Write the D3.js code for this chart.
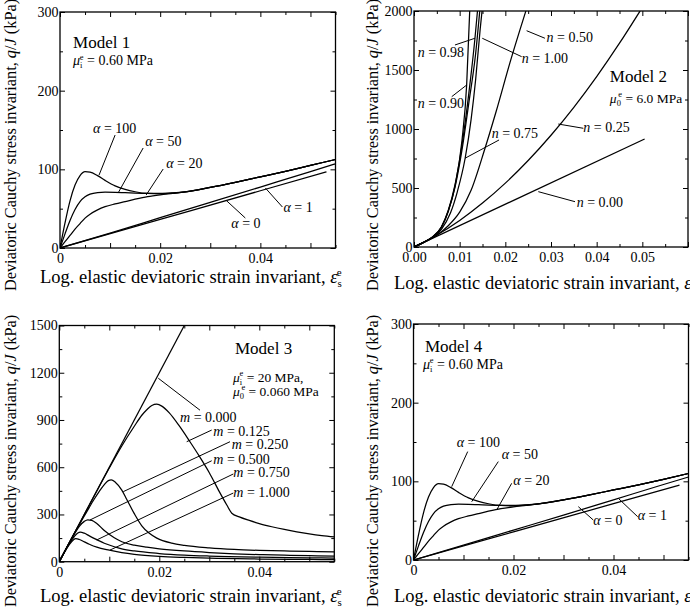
<!DOCTYPE html>
<html><head><meta charset="utf-8">
<script src="https://cdn.jsdelivr.net/npm/d3@7"></script>
<style>
body{margin:0;background:#fff}
svg{display:block}
text{font-family:"Liberation Serif","Times New Roman",serif;fill:#000}
</style>
</head><body>
<svg id="chart" width="690" height="611"></svg>
<script>
// ---------------- DATA ----------------
// Model 1 : q/J (kPa) vs log elastic deviatoric strain
const m1_a100 = [[0,0],[0.001,32],[0.002,60],[0.003,80],[0.004,92],[0.005,97],[0.006,96.5],[0.0075,92],[0.009,86],[0.011,79],[0.013,74.5],[0.015,71.5],[0.0175,69.3],[0.02,68.8],[0.0225,69.6],[0.025,71.3],[0.03,77],[0.035,83.5],[0.04,90.5],[0.045,97.5],[0.05,105],[0.055,112.5]];
const m1_a50  = [[0,0],[0.001,18],[0.002,35],[0.003,49],[0.004,59],[0.005,65],[0.006,68.5],[0.0075,70.5],[0.009,71],[0.011,70.8],[0.013,70.3],[0.015,69.8],[0.0175,69.4],[0.02,69.3],[0.0225,70],[0.025,71.3],[0.03,77],[0.035,83.5],[0.04,90.5],[0.045,97.5],[0.05,105],[0.055,112.5]];
const m1_a20  = [[0,0],[0.001,8],[0.002,16],[0.003,24],[0.004,31],[0.005,38],[0.006,43],[0.0075,48.5],[0.009,52.5],[0.011,56],[0.013,59],[0.015,62],[0.0175,65.3],[0.02,67.6],[0.0225,69.4],[0.025,71.3],[0.03,77],[0.035,83.5],[0.04,90.5],[0.045,97.5],[0.05,105],[0.055,112.5]];
const m1_a1   = [[0,0],[0.01,19],[0.02,38.5],[0.03,58],[0.04,77.5],[0.05,97],[0.055,107]];
const m1_a0   = [[0,0],[0.02,36.4],[0.04,72.8],[0.0532,96.8]];
const m1_names = ["α = 100","α = 50","α = 20","α = 1","α = 0"];

// Model 2
const m2_n000 = [[0,0],[0.0505,915]];
const m2_n025 = [[0,0],[0.005,101],[0.01,225],[0.015,372],[0.02,541],[0.025,733],[0.03,947],[0.035,1184],[0.04,1444],[0.045,1727],[0.0495,2000]];
const m2_n050 = [[0,0],[0.0025,47],[0.005,100],[0.0075,180],[0.01,295],[0.0125,480],[0.0155,830],[0.018,1150],[0.021,1560],[0.0245,2000]];
const m2_n075 = [[0,0],[0.002,37],[0.004,80],[0.006,150],[0.008,290],[0.0095,470],[0.0112,752],[0.0125,1080],[0.0135,1420],[0.0145,1850],[0.0149,2000]];
const m2_n090 = [[0,0],[0.002,37],[0.004,82],[0.006,165],[0.0075,300],[0.009,520],[0.0105,900],[0.01153,1373],[0.0122,2000]];
const m2_n098 = [[0,0],[0.002,37],[0.004,83],[0.006,170],[0.0075,310],[0.009,530],[0.0105,860],[0.012,1300],[0.01335,1769],[0.0139,2000]];
const m2_n100 = [[0,0],[0.002,37],[0.004,83],[0.006,170],[0.0075,305],[0.009,510],[0.0105,820],[0.012,1220],[0.0135,1640],[0.0144,2000]];
const m2_names = ["n = 0.00","n = 0.25","n = 0.50","n = 0.75","n = 0.90","n = 0.98","n = 1.00"];

// Model 3
const m3_m0000 = [[0,0],[0.025,1500]];
const m3_m0125 = [[0,0],[0.005,300],[0.01,595],[0.0125,735],[0.015,860],[0.0165,930],[0.0175,965],[0.0185,992],[0.0195,1000],[0.0205,988],[0.022,945],[0.024,862],[0.026,768],[0.028,670],[0.03,565],[0.032,445],[0.0335,360],[0.0345,308],[0.036,285],[0.038,262],[0.04,242],[0.0425,222],[0.045,205],[0.0475,190],[0.05,177],[0.0525,166],[0.055,157]];
const m3_m0250 = [[0,0],[0.003,180],[0.005,290],[0.006,345],[0.007,398],[0.008,447],[0.009,490],[0.0098,515],[0.0104,520],[0.0112,505],[0.0125,455],[0.0135,395],[0.015,305],[0.0165,228],[0.018,180],[0.0195,150],[0.0225,118],[0.025,104],[0.03,88],[0.035,78],[0.04,72],[0.045,68],[0.05,65],[0.055,63]];
const m3_m0500 = [[0,0],[0.002,120],[0.003,175],[0.004,225],[0.005,256],[0.0057,266],[0.0065,262],[0.0075,242],[0.009,198],[0.011,152],[0.0125,127],[0.015,105],[0.0175,92],[0.02,82],[0.025,68],[0.03,58],[0.035,50],[0.04,45],[0.045,41],[0.05,38],[0.055,36]];
const m3_m0750 = [[0,0],[0.001,60],[0.002,115],[0.003,160],[0.0037,182],[0.0042,188],[0.005,181],[0.006,164],[0.0075,140],[0.009,117],[0.011,95],[0.0125,82],[0.015,68],[0.02,52],[0.025,42],[0.03,36],[0.04,29],[0.05,25],[0.055,23]];
const m3_m1000 = [[0,0],[0.001,58],[0.002,108],[0.0028,138],[0.0033,146],[0.004,141],[0.005,126],[0.006,111],[0.0075,92],[0.01,73],[0.0125,58],[0.015,47],[0.02,34],[0.025,27],[0.03,22],[0.04,17],[0.05,14],[0.055,13]];
const m3_names = ["m = 0.000","m = 0.125","m = 0.250","m = 0.500","m = 0.750","m = 1.000"];

// Model 4
const m4_a100 = [[0,0],[0.001,32],[0.002,60],[0.003,80],[0.004,92],[0.005,97],[0.006,96.5],[0.0075,92],[0.009,86],[0.011,79],[0.013,74.5],[0.015,71.5],[0.0175,69.3],[0.02,68.8],[0.0225,69.6],[0.025,71.3],[0.03,76.5],[0.035,82.5],[0.04,89],[0.045,95.5],[0.05,102.5],[0.055,110]];
const m4_a50  = [[0,0],[0.001,18],[0.002,35],[0.003,49],[0.004,59],[0.005,65],[0.006,68.5],[0.0075,70.5],[0.009,71],[0.011,70.8],[0.013,70.3],[0.015,69.8],[0.0175,69.4],[0.02,69.3],[0.0225,70],[0.025,71.3],[0.03,76.5],[0.035,82.5],[0.04,89],[0.045,95.5],[0.05,102.5],[0.055,110]];
const m4_a20  = [[0,0],[0.001,8],[0.002,16],[0.003,24],[0.004,31],[0.005,38],[0.006,43],[0.0075,48.5],[0.009,52.5],[0.011,56],[0.013,59],[0.015,62],[0.0175,65.3],[0.02,67.6],[0.0225,69.4],[0.025,71.3],[0.03,76.5],[0.035,82.5],[0.04,89],[0.045,95.5],[0.05,102.5],[0.055,110]];
const m4_a1   = [[0,0],[0.01,19],[0.02,38],[0.03,57],[0.04,76.5],[0.05,96],[0.055,105.5]];
const m4_a0   = [[0,0],[0.02,35.8],[0.04,71.6],[0.0532,95.2]];

// tick values
const ticksStrain055 = [0,0.01,0.02,0.03,0.04,0.05];
const ticksStrain06  = [0,0.01,0.02,0.03,0.04,0.05,0.06];
const ticksQ300  = [0,100,200,300];
const ticksQ2000 = [0,500,1000,1500,2000];
const ticksQ1500 = [0,300,600,900,1200,1500];

// ---------------- DRAWING ----------------
const svg = d3.select("#chart");
svg.append("rect").attr("width",690).attr("height",611).attr("fill","#fff");

function mathText(g, px, py, parts, size) {
  const t = g.append("text").attr("x",px).attr("y",py).attr("font-size",size);
  parts.forEach(p => {
    const s = t.append("tspan").text(p.t);
    if (p.i) s.attr("font-style","italic");
    if (p.fs) s.attr("font-size",p.fs);
    if (p.dx!=null) s.attr("dx",p.dx);
    if (p.dy!=null) s.attr("dy",p.dy);
  });
  return t;
}
function varLabel(sym, rest){ return [{t:sym,i:true},{t:" = "+rest}]; }
function muLabel(sub, rest){ return [{t:"μ",i:true},{t:sub,fs:8.5,dy:3},{t:"e",fs:8.5,dx:-2.6,dy:-8.5},{t:rest,dy:5.5}]; }

function panel(p, idx) {
  const x = d3.scaleLinear().domain([0,p.xMax]).range([p.left,p.right]);
  const y = d3.scaleLinear().domain([0,p.yMax]).range([p.bottom,p.top]);
  const g = svg.append("g");
  const cid = "clip"+idx;
  svg.append("clipPath").attr("id",cid).append("rect")
    .attr("x",p.left).attr("y",p.top).attr("width",p.right-p.left).attr("height",p.bottom-p.top);

  const xMinor = d3.range(0, p.xMax+1e-9, p.xMinor).filter(v=>!p.xTicks.some(t=>Math.abs(t-v)<1e-9));
  const yMinor = d3.range(0, p.yMax+1e-9, p.yMinor).filter(v=>!p.yTicks.some(t=>Math.abs(t-v)<1e-9));
  const lab = v => {
    if (v > p.xLabelMax + 1e-9) return "";
    if (p.xLabelEvery && Math.abs(v/p.xLabelEvery-Math.round(v/p.xLabelEvery))>1e-6) return "";
    return p.xFmt(v);
  };

  const fix = sel => { sel.select(".domain").remove(); sel.selectAll("line").attr("stroke","#000"); sel.selectAll("text").attr("font-family",'"Liberation Serif","Times New Roman",serif').attr("font-size",14).attr("fill","#000"); };
  const tickV = (vals) => vals.filter(v=>v<=p.xMax+1e-9);
  g.append("g").attr("transform",`translate(0,${p.bottom})`).call(d3.axisBottom(x).tickValues(tickV(p.xTicks)).tickSize(-5).tickPadding(5).tickFormat(lab)).call(fix);
  g.append("g").attr("transform",`translate(0,${p.bottom})`).call(d3.axisBottom(x).tickValues(xMinor).tickSize(-3).tickFormat("")).call(fix);
  g.append("g").attr("transform",`translate(0,${p.top})`).call(d3.axisTop(x).tickValues(tickV(p.xTicks)).tickSize(-5).tickFormat("")).call(fix);
  g.append("g").attr("transform",`translate(0,${p.top})`).call(d3.axisTop(x).tickValues(xMinor).tickSize(-3).tickFormat("")).call(fix);
  g.append("g").attr("transform",`translate(${p.left},0)`).call(d3.axisLeft(y).tickValues(p.yTicks).tickSize(-5).tickPadding(1.5).tickFormat(d3.format("d"))).call(fix);
  g.append("g").attr("transform",`translate(${p.left},0)`).call(d3.axisLeft(y).tickValues(yMinor).tickSize(-3).tickFormat("")).call(fix);
  g.append("g").attr("transform",`translate(${p.right},0)`).call(d3.axisRight(y).tickValues(p.yTicks).tickSize(-5).tickFormat("")).call(fix);
  g.append("g").attr("transform",`translate(${p.right},0)`).call(d3.axisRight(y).tickValues(yMinor).tickSize(-3).tickFormat("")).call(fix);

  g.append("rect").attr("x",p.left).attr("y",p.top).attr("width",p.right-p.left).attr("height",p.bottom-p.top)
    .attr("fill","none").attr("stroke","#000").attr("stroke-width",1.3);

  const line = d3.line().x(d=>x(d[0])).y(d=>y(d[1])).curve(d3.curveMonotoneX);
  const cg = g.append("g").attr("clip-path",`url(#${cid})`);
  p.series.forEach(s => cg.append("path").attr("d",line(s)).attr("fill","none").attr("stroke","#000").attr("stroke-width",1.25));

  // annotations (data coordinates)
  p.notes.forEach(n => {
    if (n.ptr) g.append("line").attr("x1",x(n.ptr[0])).attr("y1",y(n.ptr[1])).attr("x2",x(n.ptr[2])).attr("y2",y(n.ptr[3])).attr("stroke","#000").attr("stroke-width",1);
    mathText(g, x(n.at[0]), y(n.at[1]), n.parts, n.size||14);
  });

  // axis titles
  mathText(g, p.xTitle[0], p.xTitle[1], [{t:"Log. elastic deviatoric strain invariant, "},{t:"ε",i:true},{t:"s",fs:11,dy:4},{t:"e",fs:11,dx:-5,dy:-11}], 18.5);
  const yt = g.append("text").attr("transform",`translate(${p.yTitle[0]},${p.yTitle[1]}) rotate(-90)`).attr("font-size",16.3);
  yt.append("tspan").text("Deviatoric Cauchy stress invariant, ");
  yt.append("tspan").attr("font-style","italic").text("q");
  yt.append("tspan").text("/");
  yt.append("tspan").attr("font-style","italic").text("J");
  yt.append("tspan").text(" (kPa)");
}

const fmtStrain = v => v===0 ? "0" : d3.format(".2f")(v);

panel({left:60,right:335.5,top:12,bottom:248,xMax:0.055,yMax:300,
  xTicks:ticksStrain055,xMinor:0.005,xLabelEvery:0.02,xLabelMax:0.05,xFmt:fmtStrain,yTicks:ticksQ300,yMinor:50,
  series:[m1_a100,m1_a50,m1_a20,m1_a1,m1_a0],
  xTitle:[40,283],yTitle:[16,291],
  notes:[
    {at:[0.0026,254],parts:[{t:"Model 1"}],size:17},
    {at:[0.0026,232],parts:muLabel("i"," = 0.60 MPa"),size:14},
    {at:[0.0066,146],parts:varLabel("α","100"),ptr:[0.011,143.6,0.0078,92.8]},
    {at:[0.017,129.7],parts:varLabel("α","50"),ptr:[0.0166,127.1,0.0116,69.9]},
    {at:[0.0212,101.7],parts:varLabel("α","20"),ptr:[0.0206,100.4,0.0172,67.4]},
    {at:[0.0446,45.8],parts:varLabel("α","1"),ptr:[0.0444,52.1,0.041,76.3]},
    {at:[0.0342,25.4],parts:varLabel("α","0"),ptr:[0.037,38.1,0.0332,60.4]}
  ]},0);

panel({left:414,right:688,top:11,bottom:247,xMax:0.06,yMax:2000,
  xTicks:ticksStrain06,xMinor:0.005,xLabelEvery:0,xLabelMax:0.05,xFmt:d3.format(".2f"),yTicks:ticksQ2000,yMinor:250,
  series:[m2_n000,m2_n025,m2_n050,m2_n075,m2_n090,m2_n098,m2_n100],
  xTitle:[394,289],yTitle:[378,291],
  notes:[
    {at:[0.02904,1740],parts:varLabel("n","0.50"),ptr:[0.02867,1769,0.02466,1833]},
    {at:[0.00081,1613],parts:varLabel("n","0.98"),ptr:[0.00897,1712,0.01335,1769]},
    {at:[0.02357,1557],parts:varLabel("n","1.00"),ptr:[0.02357,1613,0.01495,1769]},
    {at:[0.04289,1401],parts:[{t:"Model 2"}],size:17},
    {at:[0.04289,1223],parts:muLabel("0"," = 6.0 MPa"),size:13.5},
    {at:[0.00081,1176],parts:varLabel("n","0.90"),ptr:[0.00826,1274,0.01154,1373]},
    {at:[0.03708,972],parts:varLabel("n","0.25"),ptr:[0.03708,1006,0.0316,1042]},
    {at:[0.01702,921],parts:varLabel("n","0.75"),ptr:[0.01862,907,0.01117,752]},
    {at:[0.03563,342],parts:varLabel("n","0.00"),ptr:[0.03526,384,0.02722,469]}
  ]},1);

panel({left:59.3,right:334.3,top:325.5,bottom:561.7,xMax:0.055,yMax:1500,
  xTicks:ticksStrain055,xMinor:0.005,xLabelEvery:0.02,xLabelMax:0.05,xFmt:fmtStrain,yTicks:ticksQ1500,yMinor:150,
  series:[m3_m0000,m3_m0125,m3_m0250,m3_m0500,m3_m0750,m3_m1000],
  xTitle:[40,602],yTitle:[16,607],
  notes:[
    {at:[0.03514,1319],parts:[{t:"Model 3"}],size:17},
    {at:[0.03474,1142],parts:muLabel("i"," = 20 MPa,"),size:13.5},
    {at:[0.03474,1053],parts:muLabel("0"," = 0.060 MPa"),size:13.5},
    {at:[0.02414,887],parts:varLabel("m","0.000"),ptr:[0.02814,962,0.0198,1165]},
    {at:[0.0308,801],parts:varLabel("m","0.125"),ptr:[0.03048,836,0.02548,762]},
    {at:[0.03448,716],parts:varLabel("m","0.250"),ptr:[0.03414,762,0.0128,445]},
    {at:[0.0308,620],parts:varLabel("m","0.500"),ptr:[0.03048,641,0.00614,265]},
    {at:[0.0348,536],parts:varLabel("m","0.750"),ptr:[0.0348,557,0.00748,138]},
    {at:[0.0348,411],parts:varLabel("m","1.000"),ptr:[0.0348,436,0.01014,74]}
  ]},2);

panel({left:413.5,right:688.5,top:324,bottom:560,xMax:0.055,yMax:300,
  xTicks:ticksStrain055,xMinor:0.005,xLabelEvery:0.02,xLabelMax:0.05,xFmt:fmtStrain,yTicks:ticksQ300,yMinor:50,
  series:[m4_a100,m4_a50,m4_a20,m4_a1,m4_a0],
  xTitle:[394,602],yTitle:[378,607],
  notes:[
    {at:[0.0023,264],parts:[{t:"Model 4"}],size:17},
    {at:[0.0019,242.8],parts:muLabel("i"," = 0.60 MPa"),size:14},
    {at:[0.00864,144],parts:varLabel("α","100"),ptr:[0.01084,137.8,0.00764,93.2]},
    {at:[0.01764,128.1],parts:varLabel("α","50"),ptr:[0.01696,125.1,0.01164,74.1]},
    {at:[0.01996,95.3],parts:varLabel("α","20"),ptr:[0.01964,97.5,0.01664,63.6]},
    {at:[0.04484,50.8],parts:varLabel("α","1"),ptr:[0.04484,55,0.04096,78.4]},
    {at:[0.03596,44.5],parts:varLabel("α","0"),ptr:[0.03596,50.8,0.03296,67.8]}
  ]},3);
</script>
</body></html>
